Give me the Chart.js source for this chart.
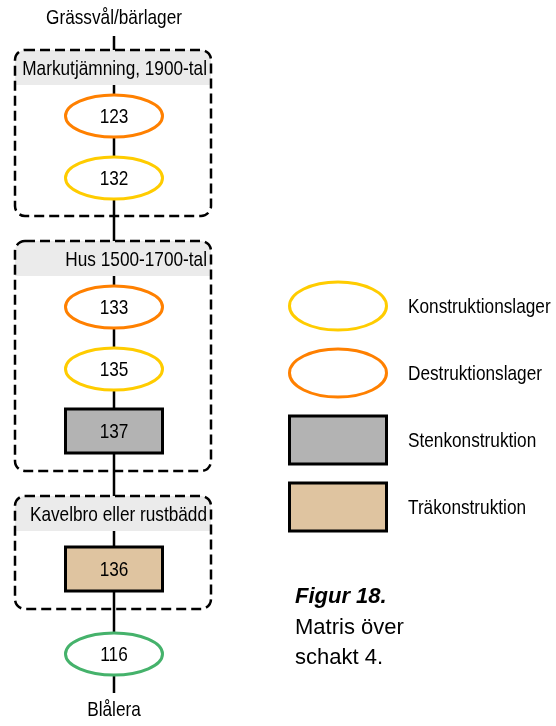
<!DOCTYPE html>
<html>
<head>
<meta charset="utf-8">
<script src="https://cdn.jsdelivr.net/npm/chart.js@4"></script>
<style>
  html, body { margin: 0; padding: 0; background: #fff; }
  #matrixChart { display: block; }
</style>
</head>
<body>
<canvas id="matrixChart" width="556" height="726"></canvas>
<script>
// Stratigraphic matrix data (top to bottom)
const contextIds = ["123", "132", "133", "135", "137", "136", "116"];
const contextTypes = ["destruktion", "konstruktion", "destruktion", "konstruktion", "sten", "tra", "natur"];
const contextGroup = [0, 0, 1, 1, 1, 2, -1];
const groupNames = ["Markutjämning, 1900-tal", "Hus 1500-1700-tal", "Kavelbro eller rustbädd"];
const topLabel = "Grässvål/bärlager";
const bottomLabel = "Blålera";

const legendTypes = ["konstruktion", "destruktion", "sten", "tra"];
const legendLabels = ["Konstruktionslager", "Destruktionslager", "Stenkonstruktion", "Träkonstruktion"];

const captionTitle = "Figur 18.";
const captionLines = ["Matris över", "schakt 4."];

// Styles
const typeStyle = {
  konstruktion: { shape: "ellipse", stroke: "#FFCC00", fill: "#ffffff" },
  destruktion: { shape: "ellipse", stroke: "#FF8000", fill: "#ffffff" },
  natur: { shape: "ellipse", stroke: "#45B26B", fill: "#ffffff" },
  sten: { shape: "rect", stroke: "#000000", fill: "#B3B3B3" },
  tra: { shape: "rect", stroke: "#000000", fill: "#DFC4A0" },
};
const labelFont = "21px 'Liberation Sans', Arial, sans-serif";
const narrowScale = 0.82; // no narrow font installed, squeeze the regular one
const spineX = 114;
const boxLeft = 15, boxRight = 211;

// layout of the matrix, in scale units
const computeLayout = () => {
  let nodeY = [];
  let boxes = [];
  let box = null;
  let cursor = 50;
  for (let i = 0; i < contextIds.length; i++) {
    let g = contextGroup[i];
    let shape = typeStyle[contextTypes[i]].shape;
    let prevG = i > 0 ? contextGroup[i - 1] : null;
    if (g !== prevG) {
      if (box) {
        box.bottom = nodeY[i - 1] + (typeStyle[contextTypes[i - 1]].shape === "rect" ? 40 : 38);
        cursor = box.bottom + 25;
        box = null;
      }
      if (g >= 0) {
        box = { group: g, top: cursor };
        boxes.push(box);
        nodeY.push(box.top + 35 + (shape === "rect" ? 38 : 31));
      } else {
        nodeY.push(cursor + 20);
      }
    } else {
      nodeY.push(nodeY[i - 1] + 62);
    }
  }
  if (box) box.bottom = nodeY[nodeY.length - 1] + 40;
  return { nodeY, boxes };
};
const layout = computeLayout();

// draw condensed text anchored at x (align: left/center/right)
const narrowText = (ctx, text, x, y, align) => {
  ctx.save();
  ctx.font = labelFont;
  ctx.fillStyle = "#000";
  ctx.textAlign = align;
  ctx.textBaseline = "middle";
  ctx.translate(x, y);
  ctx.scale(narrowScale, 1);
  ctx.fillText(text, 0, 0);
  ctx.restore();
};

const drawShape = (ctx, shape, cx, cy, w, h, style) => {
  ctx.save();
  ctx.lineWidth = 3;
  ctx.strokeStyle = style.stroke;
  ctx.fillStyle = style.fill;
  ctx.beginPath();
  if (shape === "ellipse") {
    ctx.ellipse(cx, cy, w / 2, h / 2, 0, 0, Math.PI * 2);
  } else {
    ctx.rect(cx - w / 2, cy - h / 2, w, h);
  }
  ctx.fill();
  ctx.stroke();
  ctx.restore();
};

const matrixPlugin = {
  id: "matrix",
  afterDatasetsDraw(chart) {
    const ctx = chart.ctx;
    const xs = chart.scales.x, ys = chart.scales.y;
    const px = (v) => xs.getPixelForValue(v);
    const py = (v) => ys.getPixelForValue(v);

    // group boxes
    layout.boxes.forEach((b) => {
      const x0 = px(boxLeft), x1 = px(boxRight), y0 = py(b.top), y1 = py(b.bottom);
      ctx.save();
      ctx.fillStyle = "#EBEBEB";
      ctx.beginPath();
      ctx.roundRect(x0, y0, x1 - x0, 35, [10, 10, 0, 0]);
      ctx.fill();
      ctx.setLineDash([10, 5]);
      ctx.lineWidth = 2.5;
      ctx.strokeStyle = "#000";
      ctx.beginPath();
      ctx.roundRect(x0, y0, x1 - x0, y1 - y0, 10);
      ctx.stroke();
      ctx.restore();
      narrowText(ctx, groupNames[b.group], x1 - 4, y0 + 19, "right");
    });

    // nodes
    contextIds.forEach((id, i) => {
      const style = typeStyle[contextTypes[i]];
      const cx = px(spineX), cy = py(layout.nodeY[i]);
      if (style.shape === "ellipse") drawShape(ctx, "ellipse", cx, cy, 97, 42, style);
      else drawShape(ctx, "rect", cx, cy, 97, 44, style);
      narrowText(ctx, id, cx, cy + 1, "center");
    });

    // end labels
    narrowText(ctx, topLabel, px(spineX), py(18), "center");
    narrowText(ctx, bottomLabel, px(spineX), py(710), "center");

    // legend
    legendTypes.forEach((t, i) => {
      const style = typeStyle[t];
      const cy = py(306 + i * 67);
      drawShape(ctx, style.shape, px(338), cy, 97, 48, style);
      narrowText(ctx, legendLabels[i], px(408), cy + 1, "left");
    });

    // caption
    ctx.save();
    ctx.fillStyle = "#000";
    ctx.textAlign = "left";
    ctx.textBaseline = "middle";
    ctx.font = "italic bold 22px 'Liberation Sans', Arial, sans-serif";
    ctx.fillText(captionTitle, px(295), py(597));
    ctx.font = "22px 'Liberation Sans', Arial, sans-serif";
    captionLines.forEach((line, i) => ctx.fillText(line, px(295), py(628 + i * 30)));
    ctx.restore();
  },
};

const spinePoints = [
  { x: spineX, y: 36 },
  { x: spineX, y: 693 },
];

new Chart(document.getElementById("matrixChart"), {
  type: "scatter",
  data: {
    datasets: [
      {
        data: spinePoints,
        showLine: true,
        borderColor: "#000",
        borderWidth: 2.5,
        pointRadius: 0,
      },
    ],
  },
  options: {
    responsive: false,
    animation: false,
    layout: { padding: 0 },
    plugins: { legend: { display: false }, tooltip: { enabled: false } },
    scales: {
      x: { type: "linear", min: 0, max: 556, display: false },
      y: { type: "linear", min: 0, max: 726, reverse: true, display: false },
    },
  },
  plugins: [matrixPlugin],
});
</script>
</body>
</html>
